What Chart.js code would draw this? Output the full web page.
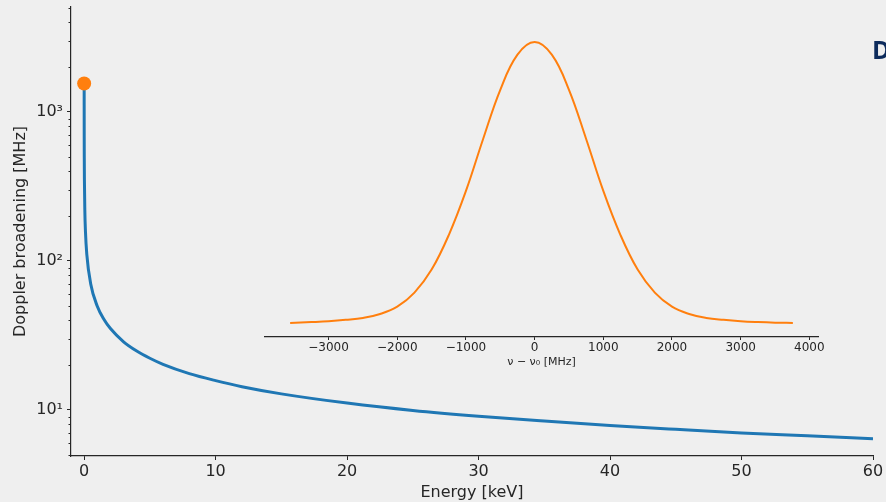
<!DOCTYPE html>
<html>
<head>
<meta charset="utf-8">
<script src="https://cdn.jsdelivr.net/npm/chart.js@4.4.1/dist/chart.umd.min.js"></script>
<style>
    html, body { margin: 0; padding: 0; background: #efefef; }
    #wrap { position: relative; width: 886px; height: 502px; overflow: hidden; background: #efefef; }
    #main { position: absolute; left: 0; top: 0; }
    #inset { position: absolute; left: 225px; top: 28px; }
</style>
</head>
<body>
<div id="wrap">
    <canvas id="main" width="886" height="502"></canvas>
    <canvas id="inset" width="640" height="350"></canvas>
</div>
<script>
// main plot: Doppler broadening vs energy
const energyKeV = [0.001, 0.002, 0.005, 0.01, 0.02, 0.05, 0.1, 0.2, 0.5, 1, 1.5, 2, 3, 4, 5, 6, 8, 10,
    12, 15, 20, 25, 30, 35, 40, 45, 50, 55, 60];
const broadeningMHz = [1550, 1110, 700, 495, 350, 222, 157, 111, 70, 49.6, 40.5, 35.1, 28.6, 24.8, 22.2, 20.2, 17.5, 15.7,
    14.3, 12.8, 11.1, 9.9, 9.05, 8.4, 7.85, 7.4, 7.0, 6.7, 6.4];
const markerEnergy = [0];
const markerBroadening = [1550];
const energyTicks = [0, 10, 20, 30, 40, 50, 60];
const broadeningTicks = [10, 100, 1000];
const broadeningMinor = [5, 6, 7, 8, 9, 20, 30, 40, 50, 60, 70, 80, 90, 200, 300, 400, 500, 600, 700, 800, 900, 2000, 3000, 4000, 5000];

// inset: line profile vs detuning (normalised)
const detuningMHz = [-3560, -3250, -3000, -2750, -2500, -2250, -2000, -1750, -1500, -1250, -1000, -750, -500, -250, 0,
    250, 500, 750, 1000, 1250, 1500, 1750, 2000, 2250, 2500, 2750, 3000, 3250, 3500, 3760];
const lineProfile = [0.0, 0.003, 0.006, 0.011, 0.018, 0.032, 0.058, 0.108, 0.19, 0.313, 0.47, 0.655, 0.83, 0.955, 1.0,
    0.955, 0.83, 0.655, 0.47, 0.313, 0.19, 0.108, 0.058, 0.032, 0.018, 0.011, 0.006, 0.003, 0.001, 0.0];
const detuningTicks = [-3000, -2000, -1000, 0, 1000, 2000, 3000, 4000];

const FONT = "'DejaVu Sans', sans-serif";
const INK = '#262626';

function pairs(xs, ys) {
    return xs.map((x, i) => ({x: x, y: ys[i]}));
}

function fixedTicks(values) {
    return function (scale) {
        scale.ticks = values.map(v => ({value: v}));
    };
}

const minorTicks = {
    id: 'minorTicks',
    afterDraw(chart) {
        const ctx = chart.ctx;
        const y = chart.scales.y;
        ctx.save();
        ctx.strokeStyle = INK;
        ctx.lineWidth = 1;
        broadeningMinor.forEach(v => {
            const py = Math.round(y.getPixelForValue(v)) + 0.5;
            ctx.beginPath();
            ctx.moveTo(y.right - 2.5, py);
            ctx.lineTo(y.right, py);
            ctx.stroke();
        });
        // cut-off slide title at the right edge
        ctx.fillStyle = '#0d2b5c';
        ctx.font = "bold 25px 'Open Sans', sans-serif";
        ctx.textBaseline = 'alphabetic';
        ctx.fillText('D', 872, 59);
        ctx.restore();
    }
};

const superscript = {1: '¹', 2: '²', 3: '³'};

new Chart(document.getElementById('main'), {
    type: 'line',
    data: {
        datasets: [{
            type: 'scatter',
            data: pairs(markerEnergy, markerBroadening),
            backgroundColor: '#ff7f0e',
            borderWidth: 0,
            pointRadius: 7,
            pointHoverRadius: 7
        }, {
            data: pairs(energyKeV, broadeningMHz),
            borderColor: '#1f77b4',
            borderWidth: 3,
            pointRadius: 0,
            cubicInterpolationMode: 'monotone',
            fill: false
        }]
    },
    options: {
        responsive: false,
        animation: false,
        layout: {padding: {top: 7, right: 13, left: 0, bottom: 0}, autoPadding: false},
        plugins: {legend: {display: false}, tooltip: {enabled: false}},
        scales: {
            x: {
                type: 'linear',
                min: -1,
                max: 60,
                afterBuildTicks: fixedTicks(energyTicks),
                afterFit(scale) {
                    scale.height = 46;
                    scale.paddingLeft = 0;
                    scale.paddingRight = 0;
                },
                grid: {drawOnChartArea: false, tickLength: 4, color: INK},
                border: {color: INK, width: 1.2},
                ticks: {color: INK, font: {family: FONT, size: 16}, padding: 2, maxRotation: 0},
                title: {display: true, text: 'Energy [keV]', color: INK, font: {family: FONT, size: 16}, padding: {top: 0, bottom: 0}}
            },
            y: {
                type: 'logarithmic',
                min: 4.9,
                max: 5050,
                afterBuildTicks: fixedTicks(broadeningTicks),
                afterFit(scale) {
                    scale.width = 71;
                    scale.paddingTop = 0;
                    scale.paddingBottom = 0;
                },
                grid: {drawOnChartArea: false, tickLength: 4, color: INK},
                border: {color: INK, width: 1.2},
                ticks: {
                    color: INK,
                    font: {family: FONT, size: 16},
                    padding: 4,
                    callback: v => '10' + superscript[Math.round(Math.log10(v))]
                },
                title: {display: true, text: 'Doppler broadening [MHz]', color: INK, font: {family: FONT, size: 16}, padding: {top: 11, bottom: 0}}
            }
        }
    },
    plugins: [minorTicks]
});

new Chart(document.getElementById('inset'), {
    type: 'line',
    data: {
        datasets: [{
            data: pairs(detuningMHz, lineProfile),
            borderColor: '#ff7f0e',
            borderWidth: 2,
            pointRadius: 0,
            tension: 0.4,
            fill: false
        }]
    },
    options: {
        responsive: false,
        animation: false,
        layout: {padding: {top: 0, right: 47, left: 40, bottom: 0}, autoPadding: false},
        plugins: {legend: {display: false}, tooltip: {enabled: false}},
        scales: {
            x: {
                type: 'linear',
                min: -3926,
                max: 4126,
                afterBuildTicks: fixedTicks(detuningTicks),
                afterFit(scale) {
                    scale.height = 41;
                    scale.paddingLeft = 0;
                    scale.paddingRight = 0;
                },
                grid: {drawOnChartArea: false, tickLength: 3, color: INK},
                border: {color: INK, width: 1.2},
                ticks: {
                    color: INK,
                    font: {family: FONT, size: 12},
                    padding: 1,
                    maxRotation: 0,
                    callback: v => (v < 0 ? '\u2212' + Math.abs(v) : String(v))
                },
                title: {display: true, text: 'ν − ν₀ [MHz]', color: INK, font: {family: FONT, size: 11}, padding: {top: 0, bottom: 9}}
            },
            y: {
                display: false,
                min: -0.05,
                max: 1.05
            }
        }
    }
});
</script>
</body>
</html>
